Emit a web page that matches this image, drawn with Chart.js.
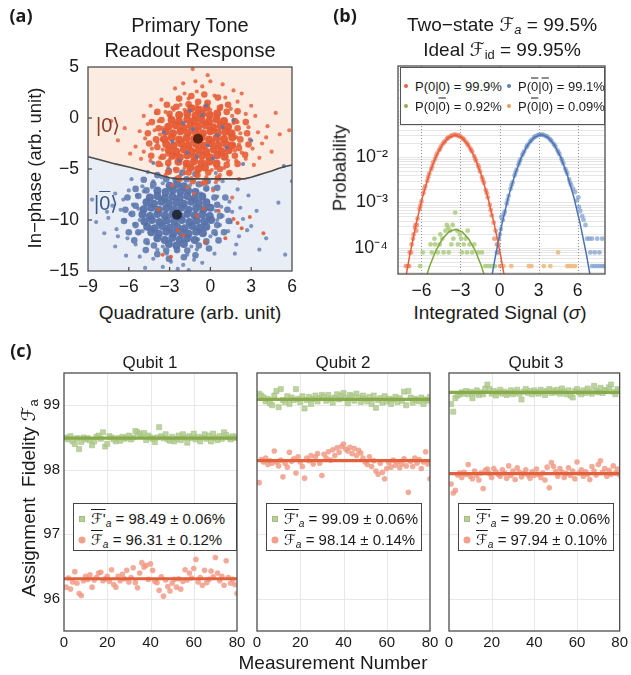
<!DOCTYPE html>
<html>
<head>
<meta charset="utf-8">
<script src="https://cdn.jsdelivr.net/npm/chart.js@4.4.1/dist/chart.umd.min.js"></script>
<style>
html,body{margin:0;padding:0;background:#fff}
body{position:relative;width:631px;height:675px;overflow:hidden;font-family:"Liberation Sans","DejaVu Sans",sans-serif;color:#1a1a1a}
canvas{position:absolute}
.t{position:absolute;transform:translate(-50%,-50%);white-space:nowrap;line-height:1}
.rot{transform:translate(-50%,-50%) rotate(-90deg)}
.pl{font-family:"Open Sans","DejaVu Sans",sans-serif;font-weight:700;font-size:18px}
.ov{text-decoration:overline;text-decoration-thickness:1px}
.scr{font-family:"DejaVu Sans",serif}
sub{font-size:0.68em;vertical-align:-0.28em;line-height:0}
.lg{position:absolute;background:#fff;border:1px solid #555;box-sizing:border-box}
.row{position:absolute;white-space:nowrap;line-height:1;transform:translateY(-50%)}
.dot{position:absolute;border-radius:50%;transform:translate(-50%,-50%)}
.sq{position:absolute;transform:translate(-50%,-50%);box-sizing:border-box}
</style>
</head>
<body>
<canvas id="cA"></canvas>
<canvas id="cB"></canvas>
<canvas id="cQ1"></canvas>
<canvas id="cQ2"></canvas>
<canvas id="cQ3"></canvas>

<div class="t pl" style="left:21px;top:15px">(a)</div>
<div class="t pl" style="left:345px;top:15px">(b)</div>
<div class="t pl" style="left:21px;top:350px">(c)</div>

<div class="t" style="left:190px;top:25px;font-size:20px">Primary Tone</div>
<div class="t" style="left:190px;top:50px;font-size:20px">Readout Response</div>
<div class="t rot" style="left:35px;top:168px;font-size:18.5px">In&minus;phase (arb. unit)</div>
<div class="t" style="left:190px;top:312px;font-size:19px">Quadrature (arb. unit)</div>
<div class="t" style="left:108px;top:125px;font-size:20px;color:#8a3a24">|0⟩</div>
<div class="t" style="left:106px;top:203px;font-size:20px;color:#3b5a8c">|<span class="ov">0</span>⟩</div>

<div class="t" style="left:502px;top:24px;font-size:19px">Two&minus;state <span class="scr">ℱ</span><sub><i>a</i></sub> = 99.5%</div>
<div class="t" style="left:502px;top:49px;font-size:19px">Ideal <span class="scr">ℱ</span><sub>id</sub> = 99.95%</div>
<div class="t rot" style="left:340px;top:168px;font-size:18.5px">Probability</div>
<div class="t" style="left:500px;top:312px;font-size:19px">Integrated Signal (<i>σ</i>)</div>

<div class="lg" style="left:400px;top:67px;width:205px;height:58px;font-size:13px">
  <span class="dot" style="left:5px;top:18px;width:4px;height:4px;background:#e8603c"></span>
  <span class="row" style="left:14px;top:18px">P(0|0) = 99.9%</span>
  <span class="dot" style="left:108px;top:18px;width:4px;height:4px;background:#5a7db8"></span>
  <span class="row" style="left:117px;top:18px">P(<span class="ov">0</span>|<span class="ov">0</span>) = 99.1%</span>
  <span class="dot" style="left:5px;top:38px;width:4px;height:4px;background:#8bb04a"></span>
  <span class="row" style="left:14px;top:38px">P(0|<span class="ov">0</span>) = 0.92%</span>
  <span class="dot" style="left:108px;top:38px;width:4px;height:4px;background:#e3a050"></span>
  <span class="row" style="left:117px;top:38px">P(<span class="ov">0</span>|0) = 0.09%</span>
</div>

<div class="t" style="left:150px;top:362px;font-size:17px">Qubit 1</div>
<div class="t" style="left:343px;top:362px;font-size:17px">Qubit 2</div>
<div class="t" style="left:536px;top:362px;font-size:17px">Qubit 3</div>
<div class="t" style="left:333px;top:662px;font-size:19px">Measurement Number</div>
<div class="t rot" style="left:28px;top:498px;font-size:19px">Assignment&nbsp;&nbsp;Fidelity <span class="scr">ℱ</span><sub>a</sub></div>

<div id="legends"></div>

<script>
// ---------- (a) single-shot IQ clouds ----------
const boundary = [[-9,-3.8],[-8,-4.15],[-7,-4.5],[-6,-4.8],[-5,-5.15],[-4,-5.5],[-3,-5.85],[-2.5,-5.97],[2.5,-5.97],[3,-5.8],[3.5,-5.6],[4,-5.4],[4.5,-5.2],[5,-4.95],[5.5,-4.75],[6,-4.6]];

const zeroCore = [[-1.4,0.95],[-0.85,0.8],[-0.3,1.0],
[-2.3,0.3],[-1.7,0.45],[-1.1,0.25],[-0.6,0.4],[-0.05,0.3],[0.5,0.45],
[-2.85,-0.2],[-2.3,-0.35],[-1.7,-0.15],[-1.2,-0.3],[-0.65,-0.2],[-0.1,-0.35],[0.45,-0.15],[1.0,-0.3],
[-3.1,-0.85],[-2.55,-0.7],[-2.0,-0.9],[-1.45,-0.75],[-0.9,-0.85],[-0.35,-0.7],[0.2,-0.9],[0.75,-0.75],[1.3,-0.85],
[-3.3,-1.35],[-2.75,-1.5],[-2.2,-1.3],[-1.65,-1.45],[-1.1,-1.35],[-0.55,-1.5],[0.0,-1.3],[0.55,-1.45],[1.1,-1.35],[1.55,-1.5],
[-3.4,-2.05],[-2.85,-1.9],[-2.3,-2.1],[-1.75,-1.95],[-1.2,-2.05],[-0.65,-1.9],[-0.1,-2.1],[0.45,-1.95],[1.0,-2.05],[1.6,-1.9],
[-3.25,-2.55],[-2.7,-2.7],[-2.15,-2.5],[-1.6,-2.65],[-1.05,-2.55],[-0.5,-2.7],[0.05,-2.5],[0.6,-2.65],[1.15,-2.55],[1.6,-2.7],
[-3.05,-3.15],[-2.5,-3.3],[-1.95,-3.1],[-1.4,-3.25],[-0.85,-3.15],[-0.3,-3.3],[0.25,-3.1],[0.8,-3.25],[1.35,-3.15],
[-2.8,-3.7],[-2.25,-3.85],[-1.7,-3.65],[-1.15,-3.8],[-0.6,-3.7],[-0.05,-3.85],[0.5,-3.65],[1.05,-3.8],
[-2.35,-4.3],[-1.75,-4.45],[-1.2,-4.25],[-0.65,-4.4],[-0.1,-4.3],[0.45,-4.45],
[-1.45,-4.85],[-0.9,-5.0],[-0.4,-4.85]];

const zeroMid = [[2.2,-2.1],[2.0,-1.0],[1.8,-0.3],[1.2,0.6],[0.7,1.0],[-0.2,1.5],[-0.9,1.6],[-1.6,1.35],[-2.5,1.1],[-3.0,0.4],
[-3.6,-0.2],[-3.8,-1.0],[-4.0,-2.1],[-3.9,-2.85],[-3.5,-3.8],[-3.1,-4.4],[-2.5,-5.1],[-1.6,-5.35],[-0.95,-5.6],[-0.15,-5.35],
[0.7,-5.0],[1.2,-4.6],[1.8,-3.7],[2.1,-2.95],
[2.7,-1.5],[2.6,-0.4],[2.0,0.65],[1.3,1.3],[0.55,2.0],[-0.45,2.3],[-1.4,2.15],[-2.3,1.9],[-3.2,1.3],[-3.9,0.6],
[-4.3,-0.4],[-4.6,-1.5],[-4.5,-2.5],[-4.35,-3.7],[-3.8,-4.5],[-3.1,-5.3],[-2.35,-5.9],[-1.3,-6.2],[-0.4,-6.3],[0.55,-5.9],
[1.4,-5.4],[2.0,-4.5],[2.55,-3.6],[2.8,-2.6]];

const zeroHalo = [[-2.2,1.3],[-0.3,1.5],[0.8,1.2],[-1.6,1.9],[0.3,2.2],[-2.8,1.0],[-1.0,2.6],[1.5,0.9],[-0.6,3.1],[-3.3,0.6],
[1.1,2.0],[-1.9,2.4],[0.0,3.6],[-2.6,2.9],[2.0,1.6],[-1.3,4.8],[0.9,3.3],[-3.6,1.8],[2.6,0.4],[-0.2,4.2],
[-3.8,-0.3],[-4.1,-1.2],[-3.9,-2.4],[-4.3,-3.0],[-3.7,-3.9],[-4.6,-0.6],[-4.8,-2.0],[-5.2,-1.3],[-4.0,0.5],[-5.5,-2.8],
[-4.4,-4.2],[-6.3,-1.0],[-5.9,-3.5],[-3.6,-4.6],[-4.9,0.2],[-6.8,-2.2],[-7.3,-0.3],
[2.0,-0.4],[2.2,-1.5],[2.1,-2.6],[2.3,-3.4],[1.9,-4.2],[2.8,-0.9],[2.9,-2.1],[3.1,-3.0],[2.6,-4.0],[3.5,-1.4],
[3.3,0.2],[3.8,-2.5],[4.2,-0.8],[4.5,-3.3],[3.2,-4.6],[5.1,-1.6],[5.8,-1.2],[4.8,0.5],
[-2.6,-5.0],[-1.9,-5.4],[-0.9,-5.3],[0.1,-5.1],[1.0,-4.9],[-3.1,-4.6],[-1.4,-5.9],[-0.3,-5.8],[0.7,-5.6],[-2.2,-6.1],
[-0.7,-6.4],[0.4,-6.3],[-1.7,-6.8],[1.4,-5.4],[-3.3,-5.6],[0.2,-7.1],[-1.2,-7.4],[2.1,-6.0],[-2.8,-6.6],[1.6,-7.8],
[-3.5,-1.0],[-3.6,-2.1],[-3.5,-3.1],[1.7,-0.5],[1.8,-3.2],[-2.7,0.8],[0.7,0.9],[-3.0,-4.1],[1.3,-4.2],[-1.9,-4.9],
[0.4,-4.9],[-1.9,0.8],[0.0,0.8],[-1.0,1.2],[-3.0,0.2],[1.6,0.2],[1.9,-1.9],[-3.7,-1.6],[-3.2,-3.6],[1.7,-2.6],
[3.0,1.2],[-4.4,1.2],[-2.0,3.4],[1.7,2.7],[-5.1,-4.0],[3.6,-3.9],[-4.9,-3.3],[4.1,-1.9],[-1.1,3.6],[2.3,2.4]];

const zeroStray = [[-0.5,-8.9],[-2.4,-11.0],[2.0,-10.3],[3.9,-11.3],[-3.5,-13.4],[-1.0,-9.6],[0.6,-9.1],[1.7,-9.9],
[2.3,-10.8],[-2.0,-11.5],[-3.8,-9.0],[-0.4,-12.2],[1.1,-11.8],[-2.9,-13.6],[2.9,-9.7]];

const barCore = [[-3.0,-6.65],[-2.45,-6.5],[-1.95,-6.7],
[-3.9,-7.1],[-3.3,-7.25],[-2.75,-7.05],[-2.2,-7.2],[-1.65,-7.1],[-1.1,-7.25],
[-4.45,-7.8],[-3.9,-7.65],[-3.35,-7.85],[-2.8,-7.7],[-2.25,-7.8],[-1.7,-7.65],[-1.15,-7.85],[-0.6,-7.7],
[-4.7,-8.25],[-4.15,-8.4],[-3.6,-8.2],[-3.05,-8.35],[-2.5,-8.25],[-1.95,-8.4],[-1.4,-8.2],[-0.85,-8.35],[-0.3,-8.25],
[-4.9,-8.95],[-4.35,-8.8],[-3.8,-9.0],[-3.25,-8.85],[-2.7,-8.95],[-2.15,-8.8],[-1.6,-9.0],[-1.05,-8.85],[-0.5,-8.95],[0.0,-8.8],
[-5.0,-9.45],[-4.45,-9.6],[-3.9,-9.4],[-3.35,-9.55],[-2.8,-9.45],[-2.25,-9.6],[-1.7,-9.4],[-1.15,-9.55],[-0.6,-9.45],[-0.05,-9.6],
[-4.85,-10.15],[-4.3,-10.0],[-3.75,-10.2],[-3.2,-10.05],[-2.65,-10.15],[-2.1,-10.0],[-1.55,-10.2],[-1.0,-10.05],[-0.45,-10.15],[0.05,-10.0],
[-4.65,-10.65],[-4.1,-10.8],[-3.55,-10.6],[-3.0,-10.75],[-2.45,-10.65],[-1.9,-10.8],[-1.35,-10.6],[-0.8,-10.75],[-0.3,-10.65],
[-4.35,-11.2],[-3.8,-11.35],[-3.25,-11.15],[-2.7,-11.3],[-2.15,-11.2],[-1.6,-11.35],[-1.05,-11.15],[-0.55,-11.3],
[-3.9,-11.8],[-3.35,-11.95],[-2.8,-11.75],[-2.25,-11.9],[-1.7,-11.8],[-1.15,-11.95],
[-3.05,-12.35],[-2.5,-12.5],[-1.95,-12.35]];

const barMid = [[0.7,-9.6],[0.5,-8.5],[0.3,-7.8],[-0.3,-6.9],[-0.85,-6.5],[-1.75,-6.0],[-2.55,-6.05],[-3.25,-6.0],[-4.2,-6.5],[-4.7,-7.1],
[-5.3,-7.65],[-5.5,-8.6],[-5.75,-9.4],[-5.5,-10.5],[-5.3,-11.2],[-4.7,-12.1],[-4.15,-12.5],[-3.25,-13.0],[-2.45,-12.95],[-1.7,-13.0],
[-0.85,-12.5],[-0.3,-12.1],[0.3,-11.2],[0.5,-10.5],
[1.25,-9.0],[1.1,-7.8],[0.5,-6.85],[-0.2,-6.2],[-1.1,-5.5],[-2.05,-5.35],[-3.05,-5.2],[-3.9,-5.6],[-4.9,-6.05],[-5.5,-6.95],
[-6.1,-7.8],[-6.25,-9.0],[-6.35,-10.1],[-6.0,-11.2],[-5.6,-12.0],[-4.75,-12.95],[-3.9,-13.35],[-3.05,-13.8],[-1.95,-13.65],[-1.1,-13.45],
[-0.1,-12.8],[0.6,-12.0],[1.0,-11.2],[1.35,-10.1]];

const barHalo = [[-4.2,-6.2],[-3.6,-5.8],[-1.3,-6.1],[-0.6,-6.5],[-5.0,-6.7],[0.2,-6.9],[-2.2,-5.6],[-4.6,-5.3],[-0.9,-5.2],[-3.1,-4.9],
[-5.8,-6.0],[0.9,-6.2],[-1.8,-4.6],[0.4,-5.4],
[-5.4,-7.6],[-5.7,-8.5],[-5.9,-9.4],[-5.6,-10.4],[-5.3,-11.3],[-6.4,-8.0],[-6.6,-9.0],[-6.3,-10.0],[-6.9,-10.9],[-6.1,-11.8],
[-7.2,-8.6],[-7.5,-9.8],[-6.0,-7.1],[-7.8,-11.3],[-8.4,-10.2],[-7.0,-12.6],[-5.5,-12.4],[-8.7,-8.0],
[0.5,-7.7],[0.8,-8.7],[0.9,-9.6],[0.7,-10.5],[0.4,-11.4],[1.4,-8.2],[1.6,-9.2],[1.5,-10.2],[1.3,-11.1],[2.2,-8.8],
[2.4,-9.9],[2.1,-11.6],[3.0,-10.6],[2.8,-7.6],[3.4,-9.1],[1.9,-12.4],[4.1,-11.8],[3.6,-12.9],[5.5,-13.4],[5.0,-8.3],[6.0,-6.2],
[-4.6,-12.3],[-3.9,-12.9],[-3.2,-13.3],[-2.5,-13.0],[-1.7,-13.4],[-1.0,-12.9],[-0.3,-12.3],[-4.2,-13.8],[-2.9,-14.1],[-2.0,-14.4],
[-1.2,-13.9],[-3.5,-14.6],[-0.6,-14.2],[-2.4,-14.8],[0.3,-13.3],[-5.2,-13.6],[-4.8,-14.7],
[-5.3,-8.9],[-5.2,-10.0],[0.4,-9.1],[0.5,-10.0],[-4.9,-7.2],[-0.3,-7.0],[-5.0,-11.1],[0.0,-11.6],[-3.5,-6.4],[-1.5,-6.6],
[-3.5,-12.6],[-1.4,-12.6],[-4.0,-11.9],[-0.9,-11.9],[-4.3,-6.8],[-0.7,-7.4],
[2.0,-7.0],[-7.0,-7.4],[-6.8,-11.6],[1.8,-13.3],[-6.2,-13.5],[-1.6,-14.9],[2.7,-11.0],[-7.6,-9.2]];

const barStray = [[-2.0,-0.5],[-1.3,-1.1],[-0.2,-2.7],[-2.8,-2.3],[0.5,-1.7],[-1.7,-3.4],[-0.6,0.3],[1.2,-2.9],[-2.3,-4.2],[0.2,-4.0],
[-3.4,-1.4],[1.7,-0.2],[-1.0,-3.8],[3.0,-2.2],[-0.3,1.2],[-4.2,-4.4],[2.4,-4.5],[5.4,-4.7],[-1.5,0.7],[0.9,-0.9]];

const zeroCentre = [[-0.91,-2.03]];
const barCentre = [[-2.46,-9.48]];

const aXTicks = [-6, -3, 0, 3];
const aYTicks = [0, -5, -10];

// ---------- (b) integrated-signal histograms ----------
const bXTicks = [-6, -3, 0, 3, 6];
const bYTicks = [1e-4, 1e-3, 1e-2];
const bYLabels = ['10\u207B\u2074', '10\u207B\u00B3', '10\u207B\u00B2'];

const bRed = [[-7.2,4e-5],[-7.05,4e-5],[-6.95,4e-5],[-6.9,8e-5],[-6.8,8e-5],[-6.75,1.2e-4],[-6.65,1.6e-4],[-6.6,2e-4],[-6.5,2.8e-4],[-6.45,3.2e-4],
[-6.35,3.2e-4],[-6.3,4.4e-4],[-6.15,7.2e-4],[-6.0,1.05e-3],[-5.85,1.6e-3],[-5.7,2.3e-3],[-5.55,3.0e-3],[-5.4,4.3e-3],[-5.25,5.4e-3],[-5.1,7.6e-3],
[-4.95,9.0e-3],[-4.8,1.2e-2],[-4.65,1.4e-2],[-4.5,1.7e-2],[-4.35,1.95e-2],[-4.2,2.2e-2],[-4.05,2.5e-2],[-3.9,2.7e-2],[-3.75,2.85e-2],[-3.6,3.0e-2],
[-3.45,3.1e-2],[-3.3,3.0e-2],[-3.15,3.0e-2],[-3.0,2.8e-2],[-2.85,2.6e-2],[-2.7,2.35e-2],[-2.55,2.1e-2],[-2.4,1.8e-2],[-2.25,1.55e-2],[-2.1,1.3e-2],
[-1.95,1.05e-2],[-1.8,8.2e-3],[-1.65,6.6e-3],[-1.5,4.8e-3],[-1.35,3.6e-3],[-1.2,2.7e-3],[-1.05,1.85e-3],[-0.9,1.3e-3],[-0.75,8.8e-4],[-0.6,5.2e-4],
[-0.45,3.6e-4],[-0.4,1.6e-4],[-0.3,2.4e-4],[-0.2,1.2e-4],[-0.1,8e-5],[0.05,4e-5],
[-5.78,2.0e-3],[-5.48,3.6e-3],[-5.18,6.2e-3],[-4.88,1.05e-2],[-4.58,1.5e-2],[-4.28,2.1e-2],[-3.98,2.6e-2],[-3.68,2.95e-2],[-3.38,3.05e-2],[-3.08,2.9e-2],
[-2.78,2.5e-2],[-2.48,1.95e-2],[-2.18,1.42e-2],[-1.88,9.2e-3],[-1.58,5.8e-3],[-1.28,3.1e-3],[-0.98,1.6e-3],[-0.68,6.8e-4],[-6.08,8.5e-4],[-6.4,2.4e-4]];

const bBlue = [[-0.2,8e-5],[-0.1,1.2e-4],[-0.05,1.6e-4],[0.1,2.6e-4],[0.13,4.8e-4],[0.25,4.1e-4],[0.4,6.3e-4],[0.55,9.5e-4],[0.7,1.4e-3],[0.85,2.0e-3],
[1.0,2.8e-3],[1.15,3.9e-3],[1.3,5.2e-3],[1.45,6.8e-3],[1.6,8.8e-3],[1.75,1.1e-2],[1.9,1.35e-2],[2.05,1.62e-2],[2.2,1.9e-2],[2.35,2.18e-2],
[2.5,2.44e-2],[2.65,2.68e-2],[2.8,2.87e-2],[2.95,3.02e-2],[3.1,3.09e-2],[3.25,3.1e-2],[3.4,3.03e-2],[3.55,2.9e-2],[3.7,2.72e-2],[3.85,2.5e-2],
[4.0,2.23e-2],[4.15,1.96e-2],[4.3,1.68e-2],[4.45,1.4e-2],[4.6,1.15e-2],[4.75,9.2e-3],[4.9,7.2e-3],[5.05,5.5e-3],[5.2,4.3e-3],[5.35,3.2e-3],
[5.5,2.4e-3],[5.65,2.0e-3],[5.8,1.7e-3],[5.95,1.1e-3],[6.05,1.3e-3],[6.1,8e-4],[6.2,6.5e-4],[6.35,5e-4],[6.45,4.2e-4],[6.6,3.2e-4],
[6.72,1.6e-4],[6.9,1.6e-4],[7.1,1.6e-4],[7.5,1.6e-4],[7.88,1.6e-4],[6.97,8e-5],[7.31,8e-5],[7.67,8e-5],
[7.1,4e-5],[7.3,4e-5],[7.5,4e-5],[7.7,4e-5],[7.9,4e-5],[8.05,4e-5],
[0.62,1.15e-3],[0.92,2.4e-3],[1.22,4.5e-3],[1.52,7.8e-3],[1.82,1.22e-2],[2.12,1.75e-2],[2.42,2.3e-2],[2.72,2.8e-2],[3.02,3.05e-2],[3.32,3.06e-2],
[3.62,2.82e-2],[3.92,2.38e-2],[4.22,1.82e-2],[4.52,1.28e-2],[4.82,8.2e-3],[5.12,4.9e-3],[5.42,2.7e-3],[0.32,5.5e-4],[0.02,2.0e-4]];

const bGreen = [[-6.1,4e-5],[-1.1,4e-5],[-0.85,4e-5],[-0.6,4e-5],[-0.35,4e-5],[-5.9,8e-5],[-5.2,8e-5],[-4.75,8e-5],[-4.3,8e-5],[-3.9,8e-5],
[-2.9,8e-5],[-2.5,8e-5],[-2.1,8e-5],[-1.65,8e-5],[-1.35,8e-5],[-5.3,1.2e-4],[-4.95,1.2e-4],[-4.6,1.2e-4],[-3.7,1.2e-4],[-3.2,1.2e-4],
[-2.75,1.2e-4],[-2.3,1.2e-4],[-1.95,1.2e-4],[-5.0,1.6e-4],[-4.4,1.6e-4],[-3.55,1.6e-4],[-2.95,1.6e-4],[-2.6,1.6e-4],[-4.55,2e-4],[-3.05,2e-4],
[-4.15,2.4e-4],[-3.8,2.4e-4],[-3.25,2.4e-4],[-2.45,2.4e-4],[-3.95,2.8e-4],[-4.05,3.2e-4],[-3.6,3.2e-4],[-3.4,6e-4]];

const bOrange = [[0.3,4e-5],[0.9,4e-5],[2.25,4e-5],[2.45,4e-5],[3.4,4e-5],[3.9,4e-5],[5.2,4e-5],[5.35,4e-5],[5.55,4e-5],[5.8,4e-5],[4.5,8e-5]];

const bRedFit = [[-7.41,1.02e-5],[-6.91,6.67e-5],[-6.41,3.39e-4],[-5.91,1.34e-3],[-5.41,4.13e-3],[-4.91,9.9e-3],[-4.41,1.85e-2],[-3.91,2.69e-2],[-3.41,3.05e-2],
[-2.91,2.69e-2],[-2.41,1.85e-2],[-1.91,9.9e-3],[-1.41,4.13e-3],[-0.91,1.34e-3],[-0.41,3.39e-4],[0.09,6.67e-5],[0.59,1.02e-5]];
const bBlueFit = [[-0.81,1.04e-5],[-0.31,6.78e-5],[0.19,3.44e-4],[0.69,1.36e-3],[1.19,4.19e-3],[1.69,1.006e-2],[2.19,1.88e-2],[2.69,2.74e-2],[3.19,3.1e-2],
[3.69,2.74e-2],[4.19,1.88e-2],[4.69,1.006e-2],[5.19,4.19e-3],[5.69,1.36e-3],[6.19,3.44e-4],[6.69,6.78e-5],[7.19,1.04e-5]];
const bGreenFit = [[-5.88,1.35e-5],[-5.38,3.9e-5],[-4.88,8.9e-5],[-4.38,1.6e-4],[-3.88,2.28e-4],[-3.38,2.57e-4],[-2.88,2.28e-4],[-2.38,1.6e-4],[-1.88,8.9e-5],[-1.38,3.9e-5],[-0.88,1.35e-5]];

// ---------- (c) repeated assignment-fidelity runs ----------
const q1Prime = [98.50,98.47,98.52,98.44,98.40,98.49,98.32,98.43,98.50,98.47,98.49,98.46,98.38,98.44,98.51,98.53,98.48,98.58,98.36,98.40,
98.52,98.50,98.47,98.44,98.49,98.45,98.51,98.48,98.50,98.53,98.47,98.50,98.60,98.58,98.55,98.52,98.57,98.46,98.53,98.50,
98.48,98.43,98.50,98.66,98.52,98.49,98.55,98.47,98.45,98.51,98.44,98.48,98.53,98.46,98.55,98.50,98.42,98.52,98.49,98.56,
98.47,98.51,98.44,98.50,98.55,98.48,98.53,98.44,98.56,98.49,98.46,98.52,98.48,98.58,98.54,98.50,98.47,98.52,98.49,98.51];
const q1Plain = [96.18,96.32,96.15,96.26,96.42,96.24,96.08,96.05,96.28,96.35,96.30,96.37,96.18,96.29,96.33,96.40,96.41,96.28,96.31,96.35,
96.27,96.45,96.22,96.18,96.35,96.28,96.38,96.31,96.44,96.26,96.33,96.48,96.25,96.17,96.40,96.56,96.49,96.52,96.30,96.54,
96.44,96.27,96.25,96.13,96.34,96.04,96.29,96.19,96.12,96.24,96.30,96.18,96.31,96.15,96.27,96.45,96.29,96.40,96.32,96.47,
96.61,96.26,96.33,96.21,96.44,96.25,96.30,96.43,96.34,96.64,96.40,96.28,96.35,96.21,96.59,96.33,96.24,96.30,96.22,96.08];
const q2Prime = [99.18,99.15,99.12,99.06,99.10,99.03,99.00,99.15,99.22,98.97,99.25,99.08,99.05,99.14,99.02,99.12,99.08,99.25,99.10,99.05,
99.14,98.95,99.08,99.13,99.02,99.10,99.15,99.06,99.11,99.16,99.13,99.07,99.16,99.10,99.04,99.12,99.17,99.09,99.15,99.19,
99.11,99.03,99.16,99.14,99.07,99.18,99.12,99.05,99.15,99.10,99.06,99.13,99.02,99.15,98.96,99.08,99.11,99.04,99.14,99.06,
99.10,99.02,99.09,99.13,99.05,99.11,99.07,99.21,99.00,99.22,99.12,99.04,99.10,99.08,99.06,99.12,99.02,99.09,99.07,99.13];
const q2Plain = [97.80,98.16,98.12,98.18,98.08,98.14,98.10,98.29,98.12,98.06,98.15,97.89,98.10,98.04,98.27,98.13,98.17,97.95,98.20,98.12,
98.05,97.87,98.18,98.14,98.22,98.09,98.20,98.25,98.10,97.91,98.24,98.18,98.28,98.15,98.31,98.22,98.34,98.27,98.36,98.40,
98.32,98.29,98.35,98.25,98.33,98.22,98.30,98.26,98.18,98.12,98.08,98.20,98.05,98.14,97.98,97.93,98.10,97.96,97.86,98.02,
98.11,98.04,98.15,98.07,98.12,98.03,98.09,98.17,98.06,97.65,98.13,98.05,98.18,98.10,98.16,98.02,98.12,98.28,98.09,97.86];
const q3Prime = [99.02,98.90,99.11,99.15,99.17,99.20,99.18,99.22,99.17,99.21,99.11,99.19,99.23,99.16,99.20,99.17,99.26,99.32,99.25,99.18,
99.22,99.15,99.20,99.24,99.18,99.21,99.16,99.19,99.23,99.17,99.20,99.24,99.18,99.09,99.21,99.25,99.19,99.22,99.17,99.23,
99.20,99.18,99.24,99.21,99.16,99.22,99.25,99.19,99.23,99.20,99.24,99.18,99.26,99.21,99.17,99.23,99.15,99.12,99.22,99.25,
99.20,99.17,99.23,99.19,99.26,99.21,99.18,99.30,99.22,99.20,99.27,99.19,99.24,99.22,99.28,99.32,99.21,99.17,99.25,99.23];
const q3Plain = [97.78,97.64,97.68,97.92,97.95,97.88,97.96,97.93,98.08,97.90,97.86,97.98,97.91,97.84,97.95,97.71,97.99,98.01,97.94,97.88,
98.02,97.97,97.93,97.90,98.00,97.95,97.87,98.06,97.91,97.98,97.85,98.03,97.96,97.89,97.94,98.00,97.92,97.87,97.97,97.91,
98.01,97.93,97.88,97.95,97.84,98.04,97.72,98.11,98.05,97.97,97.90,98.02,97.96,97.88,97.94,98.03,97.91,97.98,97.86,98.12,
97.95,98.00,97.90,97.97,97.93,97.85,98.05,97.98,97.92,98.08,98.14,97.96,98.02,97.90,97.99,97.93,98.06,97.95,98.01,97.92];

const meanPrime = [98.49, 99.09, 99.20];
const errPrime = [0.06, 0.06, 0.06];
const meanPlain = [96.31, 98.14, 97.94];
const errPlain = [0.12, 0.14, 0.10];
const cXTicks = [0, 20, 40, 60, 80];
const cYTicks = [96, 97, 98, 99];

// ---------- shared helpers ----------
Chart.defaults.font.family = '"Liberation Sans", Arial, sans-serif';
Chart.defaults.color = '#1a1a1a';
Chart.defaults.animation = false;

const pts = arr => arr.map(([x, y]) => ({x, y}));
const minus = v => String(v).replace('-', '\u2212');

function place(id, cv) {
  const c = document.getElementById(id);
  c.width = cv.w; c.height = cv.h;
  c.style.left = cv.l + 'px'; c.style.top = cv.t + 'px';
  return c;
}
function layoutFor(cv, area) {
  return {autoPadding: false, padding: {top: area.t - cv.t, right: cv.l + cv.w - area.r, left: 0, bottom: 0}};
}
function axis(extra, fit) {
  return Object.assign({type: 'linear', grid: {display: false, drawTicks: false}, border: {display: false}, afterFit: fit}, extra);
}

// grid lines, frame and inward tick marks around the plotting area
const framePlugin = {
  id: 'panelFrame',
  beforeDatasetsDraw(chart, args, o) {
    const {ctx, chartArea: a, scales: {x, y}} = chart;
    ctx.save();
    ctx.beginPath(); ctx.rect(a.left, a.top, a.right - a.left, a.bottom - a.top); ctx.clip();
    ctx.lineWidth = 1;
    if (o.yGrid) {
      ctx.strokeStyle = o.yGridColor;
      o.yGrid.forEach(v => { const p = Math.round(y.getPixelForValue(v)) + 0.5; ctx.beginPath(); ctx.moveTo(a.left, p); ctx.lineTo(a.right, p); ctx.stroke(); });
    }
    if (o.xGrid) {
      ctx.strokeStyle = o.xGridColor;
      ctx.setLineDash(o.xDash || []);
      o.xGrid.forEach(v => { const p = Math.round(x.getPixelForValue(v)) + 0.5; ctx.beginPath(); ctx.moveTo(p, a.top); ctx.lineTo(p, a.bottom); ctx.stroke(); });
    }
    ctx.restore();
  },
  afterDatasetsDraw(chart, args, o) {
    const {ctx, chartArea: a, scales: {x, y}} = chart;
    ctx.save();
    ctx.strokeStyle = '#4d4d4d'; ctx.lineWidth = 1.3;
    (o.xTicks || []).forEach(v => { const p = x.getPixelForValue(v); ctx.beginPath(); ctx.moveTo(p, a.bottom); ctx.lineTo(p, a.bottom - 4); ctx.stroke(); });
    (o.yTicks || []).forEach(v => { const p = y.getPixelForValue(v); ctx.beginPath(); ctx.moveTo(a.left, p); ctx.lineTo(a.left + 4, p); ctx.stroke(); });
    ctx.strokeRect(a.left, a.top, a.right - a.left, a.bottom - a.top);
    ctx.restore();
  }
};

// ---------- (a) chart ----------
(function () {
  const cv = {l: 0, t: 0, w: 310, h: 300}, area = {l: 88, t: 67, r: 292, b: 271};
  const pt = (data, r, col, order) => ({data: pts(data), pointRadius: r, backgroundColor: col, borderWidth: 0, order});
  new Chart(place('cA', cv), {
    type: 'scatter',
    data: {datasets: [
      {type: 'line', data: pts(boundary), fill: 'end', backgroundColor: '#fcebe1', borderWidth: 0, pointRadius: 0, order: 20},
      {type: 'line', data: pts(boundary), fill: 'start', backgroundColor: '#e9edf5', borderWidth: 0, pointRadius: 0, order: 19},
      pt(barHalo, 2.1, 'rgba(96,124,178,0.8)', 12),
      pt(barMid, 3.3, 'rgba(90,118,172,0.88)', 11),
      pt(barCore, 4.0, 'rgba(86,113,168,0.95)', 10),
      pt(zeroHalo, 2.1, 'rgba(232,98,60,0.85)', 9),
      pt(zeroMid, 3.3, 'rgba(230,94,54,0.9)', 8),
      pt(zeroCore, 4.0, 'rgba(229,90,50,0.95)', 7),
      pt(zeroStray, 2, 'rgba(226,88,48,0.9)', 6),
      pt(barStray, 2, 'rgba(92,118,172,0.9)', 5),
      {type: 'line', data: pts(boundary), fill: false, borderColor: '#4a4a4a', borderWidth: 1.6, pointRadius: 0, order: 3},
      pt(zeroCentre, 5, '#5a2314', 1),
      pt(barCentre, 5, '#222b3d', 1)
    ]},
    options: {
      responsive: false, devicePixelRatio: 1, events: [],
      layout: layoutFor(cv, area),
      plugins: {legend: {display: false}, tooltip: {enabled: false},
        panelFrame: {xTicks: aXTicks, yTicks: aYTicks}},
      scales: {
        x: axis({min: -9, max: 6, ticks: {stepSize: 3, padding: 6, font: {size: 17.5}, callback: minus, maxRotation: 0, autoSkip: false}},
                s => { s.height = cv.t + cv.h - area.b; }),
        y: axis({min: -15, max: 5, ticks: {stepSize: 5, padding: 9, font: {size: 17.5}, callback: minus}},
                s => { s.width = area.l - cv.l; })
      }
    },
    plugins: [framePlugin]
  });
})();

// ---------- (b) chart ----------
(function () {
  const cv = {l: 318, t: 0, w: 313, h: 300}, area = {l: 398, t: 66, r: 605, b: 274};
  const minorY = [];
  for (let e = -5; e <= -1; e++) for (let k = 1; k <= 9; k++) minorY.push(k * Math.pow(10, e));
  const dots = (data, col, order) => ({data: pts(data), pointRadius: 2.4, backgroundColor: col, borderWidth: 0, order});
  const fit = (data, col) => ({type: 'line', data: pts(data), borderColor: col, borderWidth: 1.5, pointRadius: 0, fill: false, tension: 0, order: 1});
  new Chart(place('cB', cv), {
    type: 'scatter',
    data: {datasets: [
      dots(bRed, 'rgba(240,128,100,0.72)', 8),
      dots(bBlue, 'rgba(128,158,206,0.72)', 7),
      dots(bGreen, 'rgba(168,200,118,0.8)', 6),
      dots(bOrange, 'rgba(238,186,128,0.9)', 5),
      fit(bRedFit, '#e65f3a'),
      fit(bBlueFit, '#4b73b1'),
      fit(bGreenFit, '#7ea83c')
    ]},
    options: {
      responsive: false, devicePixelRatio: 1, events: [],
      layout: layoutFor(cv, area),
      plugins: {legend: {display: false}, tooltip: {enabled: false},
        panelFrame: {yGrid: minorY, yGridColor: '#e6e6e6', xGrid: bXTicks, xGridColor: '#8f8f8f', xDash: [1, 2]}},
      scales: {
        x: axis({min: -7.8, max: 8.1,
                 afterBuildTicks: s => { s.ticks = bXTicks.map(v => ({value: v})); },
                 ticks: {padding: 7, font: {size: 17.5}, callback: minus, maxRotation: 0, autoSkip: false}},
                s => { s.height = cv.t + cv.h - area.b; }),
        y: axis({type: 'logarithmic', min: 2.68e-5, max: 1,
                 afterBuildTicks: s => { s.ticks = bYTicks.map(v => ({value: v})); },
                 ticks: {padding: 10, font: {size: 18}, autoSkip: false, callback: v => bYLabels[bYTicks.indexOf(v)]}},
                s => { s.width = area.l - cv.l; })
      }
    },
    plugins: [framePlugin]
  });
})();

// ---------- (c) charts ----------
function qubitChart(id, cv, area, prime, plain, q, showY) {
  const idx = arr => arr.map((v, i) => ({x: i + 1, y: v}));
  const level = m => [{x: 0, y: m}, {x: 80, y: m}];
  new Chart(place(id, cv), {
    type: 'scatter',
    data: {datasets: [
      {data: idx(prime), pointStyle: 'rect', pointRadius: 3.6, backgroundColor: 'rgba(178,204,146,0.85)', borderColor: 'rgba(160,190,125,0.9)', borderWidth: 0.6, order: 4},
      {data: idx(plain), pointRadius: 2.8, backgroundColor: 'rgba(240,150,128,0.8)', borderWidth: 0, order: 3},
      {type: 'line', data: level(meanPrime[q]), borderColor: '#88aa48', borderWidth: 3.2, pointRadius: 0, fill: false, order: 2},
      {type: 'line', data: level(meanPlain[q]), borderColor: '#e3603c', borderWidth: 3.2, pointRadius: 0, fill: false, order: 1}
    ]},
    options: {
      responsive: false, devicePixelRatio: 1, events: [],
      layout: layoutFor(cv, area),
      plugins: {legend: {display: false}, tooltip: {enabled: false},
        panelFrame: {xGrid: [20, 40, 60], xGridColor: '#e8e8e8', yGrid: cYTicks, yGridColor: '#e8e8e8'}},
      scales: {
        x: axis({min: 0, max: 80,
                 afterBuildTicks: s => { s.ticks = cXTicks.map(v => ({value: v})); },
                 ticks: {padding: 3, font: {size: 15}, maxRotation: 0, autoSkip: false}},
                s => { s.height = cv.t + cv.h - area.b; }),
        y: axis({min: 95.5, max: 99.5,
                 afterBuildTicks: s => { s.ticks = cYTicks.map(v => ({value: v})); },
                 ticks: {display: showY, padding: 4, font: {size: 15}}},
                s => { s.width = area.l - cv.l; })
      }
    },
    plugins: [framePlugin]
  });
}
qubitChart('cQ1', {l: 0, t: 360, w: 262, h: 300}, {l: 64, t: 373, r: 237, b: 631}, q1Prime, q1Plain, 0, true);
qubitChart('cQ2', {l: 232, t: 360, w: 225, h: 300}, {l: 257, t: 373, r: 430, b: 631}, q2Prime, q2Plain, 1, false);
qubitChart('cQ3', {l: 424, t: 360, w: 207, h: 300}, {l: 449, t: 373, r: 623, b: 631}, q3Prime, q3Plain, 2, false);

// legend boxes for (c), filled from the mean / error arrays
const legendBoxes = [{l: 73, w: 164}, {l: 266, w: 156}, {l: 458, w: 156}];
const holder = document.getElementById('legends');
legendBoxes.forEach((b, q) => {
  const d = document.createElement('div');
  d.className = 'lg';
  d.style.cssText = `left:${b.l}px;top:503px;width:${b.w}px;height:48px;font-size:15px;border-color:#444`;
  d.innerHTML =
    `<span class="sq" style="left:8px;top:15px;width:6px;height:6px;background:#b9cf9a;border:1px solid #a2bd80"></span>` +
    `<span class="row" style="left:17px;top:15px"><span class="ov"><span class="scr">ℱ</span>'</span><sub><i>a</i></sub> = ${meanPrime[q].toFixed(2)} ± ${errPrime[q].toFixed(2)}%</span>` +
    `<span class="dot" style="left:8px;top:36px;width:7px;height:7px;background:#f2a08c"></span>` +
    `<span class="row" style="left:17px;top:36px"><span class="ov"><span class="scr">ℱ</span></span><sub><i>a</i></sub> = ${meanPlain[q].toFixed(2)} ± ${errPlain[q].toFixed(2)}%</span>`;
  holder.appendChild(d);
});
</script>
</body>
</html>
